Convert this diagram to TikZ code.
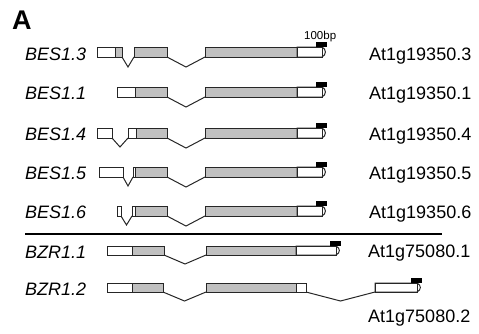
\documentclass[tikz,border=0pt]{standalone}
\usepackage{fontspec}
\setmainfont{Liberation Sans}
\usetikzlibrary{calc}
\definecolor{linec}{HTML}{262626}
\definecolor{cdsgray}{HTML}{C0C0C0}
\tikzset{
  exonbox/.style={draw=linec, line width=1pt, inner sep=0pt, outer sep=0pt, anchor=north west},
  cds/.style={exonbox, fill=cdsgray},
  utr/.style={exonbox, fill=white},
  intronline/.style={draw=linec, line width=1pt},
  probe/.style={fill=black, inner sep=0pt, outer sep=0pt, minimum width=11pt, minimum height=5pt, anchor=south east},
  genename/.style={font=\fontsize{18}{20}\selectfont\itshape, anchor=base west, inner sep=0pt},
  locus/.style={font=\fontsize{18}{20}\selectfont, anchor=base west, inner sep=0pt},
}
% exon box: style, name, left x, right x, top y, height
\newcommand\exonnode[6]{%
  \pgfmathsetmacro\exw{#4-#3}%
  \node[#1, minimum width=\exw pt, minimum height=#6pt] (#2) at (#3,#5) {};}
% intron: bent line between the lower corners of two exons
\newcommand\intronlink[3]{%
  \draw[intronline] (#1.south east) -- ($(#1.south east)!0.5!(#2.south west)+(0,#3)$) -- (#2.south west);}
% 3' end exon with a rounded tip and a probe mark above it
\newcommand\tailexon[5]{% name, left x, right x, top y, height
  \pgfmathsetmacro\exw{#3-#2}%
  \node[exonbox, fill=white, minimum width=\exw pt, minimum height=#5pt] (#1) at (#2,#4) {};
  \draw[intronline] (#1.south west) -- (#1.north west) -- (#1.north east)
     .. controls +(4.5,2) and +(4.5,-2) .. (#1.south east) -- cycle;
  \node[probe] (#1p) at ($(#1.north east)+(5,0)$) {};}
\begin{document}
\begin{tikzpicture}[x=1pt,y=-1pt]
\useasboundingbox (0,0) rectangle (479,333);
\node[font=\fontsize{27}{29}\selectfont\bfseries, anchor=base west, inner sep=0pt] (panel) at (12,29.5) {A};

% BES1.3
\exonnode{utr}{a1}{97}{115}{47}{10}
\exonnode{cds}{b1}{115}{122}{47}{10}
\exonnode{cds}{c1}{134}{167}{47}{10}
\exonnode{cds}{d1}{205}{297}{47}{10}
\tailexon{e1}{297}{322}{47}{10}
\intronlink{b1}{c1}{10}
\intronlink{c1}{d1}{10}
\node[font=\fontsize{11.5}{12}\selectfont, anchor=base west, inner sep=0pt] (scale) at (304,39) {100bp};
\node[genename] (g1) at (25,60.5) {BES1.3};
\node[locus] (l1) at (369,60.5) {At1g19350.3};

% BES1.1
\exonnode{utr}{a2}{117}{135}{87}{10}
\exonnode{cds}{c2}{135}{167}{87}{10}
\exonnode{cds}{d2}{205}{297}{87}{10}
\tailexon{e2}{297}{322}{87}{10}
\intronlink{c2}{d2}{10}
\node[genename] (g2) at (25,99.5) {BES1.1};
\node[locus] (l2) at (369,99.5) {At1g19350.1};

% BES1.4
\exonnode{utr}{a3}{97}{112}{128}{10}
\exonnode{utr}{b3}{128}{136}{128}{10}
\exonnode{cds}{c3}{136}{167}{128}{10}
\exonnode{cds}{d3}{205}{297}{128}{10}
\tailexon{e3}{297}{322}{128}{10}
\intronlink{a3}{b3}{9}
\intronlink{c3}{d3}{10}
\node[genename] (g3) at (25,140) {BES1.4};
\node[locus] (l3) at (369,140) {At1g19350.4};

% BES1.5
\exonnode{utr}{a4}{99}{123}{167}{10}
\exonnode{utr}{b4}{133}{135.5}{167}{10}
\exonnode{cds}{c4}{135.5}{167}{167}{10}
\exonnode{cds}{d4}{205}{297}{167}{10}
\tailexon{e4}{297}{322}{167}{10}
\intronlink{a4}{b4}{9}
\intronlink{c4}{d4}{10}
\node[genename] (g4) at (25,179.5) {BES1.5};
\node[locus] (l4) at (369,179.5) {At1g19350.5};

% BES1.6
\exonnode{utr}{a5}{117}{121}{206}{10}
\exonnode{utr}{b5}{132}{135}{206}{10}
\exonnode{cds}{c5}{135}{167}{206}{10}
\exonnode{cds}{d5}{205}{297}{206}{10}
\tailexon{e5}{297}{322}{206}{10}
\intronlink{a5}{b5}{9}
\intronlink{c5}{d5}{10}
\node[genename] (g5) at (25,218.5) {BES1.6};
\node[locus] (l5) at (369,218.5) {At1g19350.6};

% separator between BES1 and BZR1
\coordinate (sepL) at (25,234);
\coordinate (sepR) at (442,234);
\draw[line width=2pt] (sepL) -- (sepR);

% BZR1.1
\exonnode{utr}{a6}{107}{132}{246}{9}
\exonnode{cds}{c6}{132}{164}{246}{9}
\exonnode{cds}{d6}{206}{296}{246}{9}
\tailexon{e6}{296}{336}{246}{9}
\intronlink{c6}{d6}{9}
\node[genename] (g6) at (25,258) {BZR1.1};
\node[locus] (l6) at (368,257) {At1g75080.1};

% BZR1.2
\exonnode{utr}{a7}{107}{132}{283}{9}
\exonnode{cds}{c7}{132}{163}{283}{9}
\exonnode{cds}{d7}{206}{296}{283}{9}
\exonnode{utr}{f7}{296}{306}{283}{9}
\tailexon{e7}{375}{417}{283}{9}
\intronlink{c7}{d7}{9}
\intronlink{f7}{e7}{9}
\node[genename] (g7) at (25,295) {BZR1.2};
\node[locus] (l7) at (368,322) {At1g75080.2};
\end{tikzpicture}
\end{document}
